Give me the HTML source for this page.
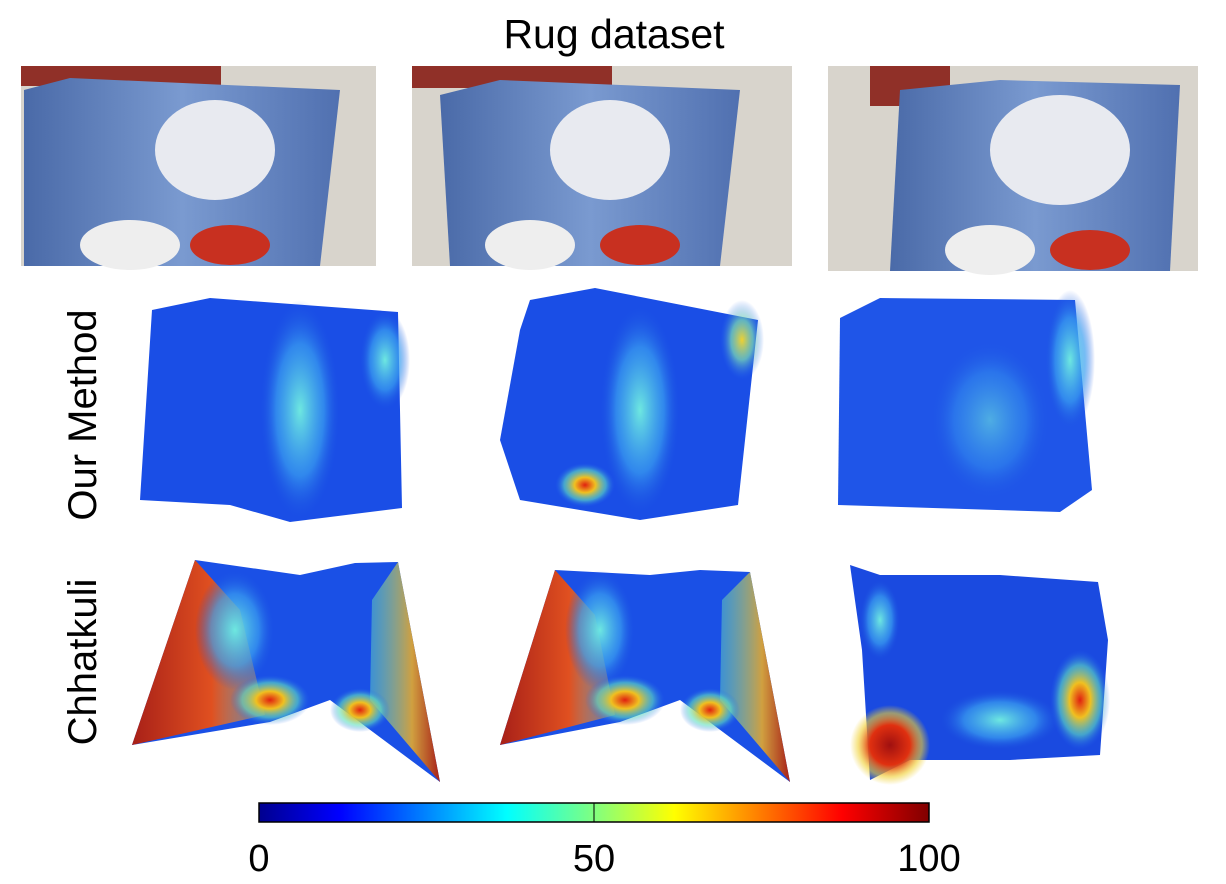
<!DOCTYPE html>
<html><head><meta charset="utf-8">
<style>
body{margin:0;background:#fff;width:1226px;height:884px;overflow:hidden;font-family:"Liberation Sans",sans-serif}
svg{position:absolute;left:0;top:0}
</style></head>
<body>
<svg width="1226" height="884" viewBox="0 0 1226 884">
<defs>
<linearGradient id="jet" x1="0" x2="1" y1="0" y2="0">
<stop offset="0" stop-color="#00008f"/><stop offset="0.12" stop-color="#0000ff"/><stop offset="0.37" stop-color="#00ffff"/><stop offset="0.5" stop-color="#80ff80"/><stop offset="0.62" stop-color="#ffff00"/><stop offset="0.87" stop-color="#ff0000"/><stop offset="1" stop-color="#800000"/>
</linearGradient>
<radialGradient id="cy"><stop offset="0" stop-color="#6ee8e0"/><stop offset="0.6" stop-color="#3aa0f0" stop-opacity="0.7"/><stop offset="1" stop-color="#1a50e0" stop-opacity="0"/></radialGradient>
<radialGradient id="hot"><stop offset="0" stop-color="#e02010"/><stop offset="0.35" stop-color="#f0c020"/><stop offset="0.7" stop-color="#60e0c0" stop-opacity="0.6"/><stop offset="1" stop-color="#2060f0" stop-opacity="0"/></radialGradient>
<radialGradient id="warm"><stop offset="0" stop-color="#f0d030"/><stop offset="0.5" stop-color="#80e0b0" stop-opacity="0.7"/><stop offset="1" stop-color="#2060f0" stop-opacity="0"/></radialGradient>
<radialGradient id="red"><stop offset="0" stop-color="#a01010"/><stop offset="0.5" stop-color="#e03010"/><stop offset="0.8" stop-color="#f0d030" stop-opacity="0.6"/><stop offset="1" stop-color="#f0d030" stop-opacity="0"/></radialGradient>
<linearGradient id="lw" x1="0" x2="1"><stop offset="0" stop-color="#a82018"/><stop offset="0.6" stop-color="#e05020"/><stop offset="1" stop-color="#f0c040" stop-opacity="0.3"/></linearGradient>
<linearGradient id="rw" x1="0" x2="1"><stop offset="0" stop-color="#60d0c0" stop-opacity="0.5"/><stop offset="0.6" stop-color="#d0a040"/><stop offset="1" stop-color="#a82018"/></linearGradient>
<linearGradient id="rug" x1="0" x2="1"><stop offset="0" stop-color="#4a6aa8"/><stop offset="0.5" stop-color="#7a9ad0"/><stop offset="1" stop-color="#5070b0"/></linearGradient>
</defs>
<text x="614" y="48" font-size="41" text-anchor="middle">Rug dataset</text>

<g>
<rect x="21" y="66" width="355" height="200" fill="#d8d4cc"/>
<rect x="21" y="66" width="200" height="20" fill="#903028"/>
<polygon points="24,90 70,78 340,90 320,266 24,266" fill="url(#rug)"/>
<ellipse cx="215" cy="150" rx="60" ry="50" fill="#e8eaf0"/>
<ellipse cx="130" cy="245" rx="50" ry="25" fill="#eee"/><ellipse cx="230" cy="245" rx="40" ry="20" fill="#c83020"/>
</g>
<g>
<rect x="412" y="66" width="380" height="200" fill="#d8d4cc"/>
<rect x="412" y="66" width="200" height="22" fill="#903028"/>
<polygon points="440,95 500,80 740,90 720,266 450,266" fill="url(#rug)"/>
<ellipse cx="610" cy="150" rx="60" ry="50" fill="#e8eaf0"/>
<ellipse cx="530" cy="245" rx="45" ry="25" fill="#eee"/><ellipse cx="640" cy="245" rx="40" ry="20" fill="#c83020"/>
</g>
<g>
<rect x="828" y="66" width="370" height="205" fill="#d8d4cc"/>
<rect x="870" y="66" width="80" height="40" fill="#903028"/>
<polygon points="900,90 1000,80 1180,85 1170,271 890,271" fill="url(#rug)"/>
<ellipse cx="1060" cy="150" rx="70" ry="55" fill="#e8eaf0"/>
<ellipse cx="990" cy="250" rx="45" ry="25" fill="#eee"/><ellipse cx="1090" cy="250" rx="40" ry="20" fill="#c83020"/>
</g>

<text transform="translate(96,415) rotate(-90)" font-size="40" text-anchor="middle">Our Method</text>
<text transform="translate(96,662) rotate(-90)" font-size="40" text-anchor="middle">Chhatkuli</text>

<g>
<polygon points="152,310 210,298 398,312 402,508 290,522 230,505 140,500" fill="#1a4ee6"/>
<ellipse cx="300" cy="410" rx="40" ry="110" fill="url(#cy)"/>
<ellipse cx="385" cy="360" rx="25" ry="50" fill="url(#cy)"/>
</g>
<g>
<polygon points="530,300 595,288 758,320 738,505 640,520 520,500 500,440 520,330" fill="#1a4ee6"/>
<ellipse cx="640" cy="410" rx="40" ry="105" fill="url(#cy)"/>
<ellipse cx="585" cy="485" rx="30" ry="22" fill="url(#hot)"/>
<ellipse cx="742" cy="340" rx="22" ry="40" fill="url(#warm)"/>
</g>
<g>
<polygon points="840,318 880,298 1075,300 1092,490 1060,512 838,505" fill="#1f55e8"/>
<ellipse cx="990" cy="420" rx="60" ry="80" fill="url(#cy)" opacity="0.6"/>
<ellipse cx="1070" cy="360" rx="25" ry="70" fill="url(#cy)"/>
</g>

<g>
<polygon points="195,560 300,575 355,563 398,562 440,782 330,700 270,722 132,745" fill="#1a50e6"/>
<polygon points="195,560 240,610 265,715 132,745" fill="url(#lw)"/>
<polygon points="398,562 440,782 370,700 372,600" fill="url(#rw)"/>
<ellipse cx="235" cy="630" rx="40" ry="60" fill="url(#cy)"/>
<ellipse cx="270" cy="700" rx="40" ry="25" fill="url(#hot)"/>
<ellipse cx="360" cy="710" rx="30" ry="22" fill="url(#hot)"/>
</g>
<g>
<polygon points="555,570 650,575 700,570 750,572 790,782 680,700 620,722 500,745" fill="#1a50e6"/>
<polygon points="555,570 595,615 615,715 500,745" fill="url(#lw)"/>
<polygon points="750,572 790,782 720,700 722,600" fill="url(#rw)"/>
<ellipse cx="600" cy="630" rx="35" ry="60" fill="url(#cy)"/>
<ellipse cx="625" cy="700" rx="40" ry="25" fill="url(#hot)"/>
<ellipse cx="710" cy="710" rx="30" ry="22" fill="url(#hot)"/>
</g>
<g>
<polygon points="850,565 880,575 1000,575 1098,582 1108,640 1100,755 1010,760 910,760 870,780 862,650" fill="#1a4ae0"/>
<ellipse cx="890" cy="745" rx="40" ry="40" fill="url(#red)"/>
<ellipse cx="1080" cy="700" rx="30" ry="50" fill="url(#hot)"/>
<ellipse cx="1000" cy="720" rx="60" ry="30" fill="url(#cy)"/>
<ellipse cx="880" cy="620" rx="20" ry="40" fill="url(#cy)"/>
</g>

<g id="cbar"></g>
</svg>
<script>
const tickValues=[0,50,100];
const tickLabels=["0","50","100"];
const cbMin=0,cbMax=100;
const X0=259,X1=929,Y=803,H=19;
function xs(v){return X0+(v-cbMin)/(cbMax-cbMin)*(X1-X0);}
const ns="http://www.w3.org/2000/svg";
const g=document.getElementById('cbar');
const r=document.createElementNS(ns,'rect');
r.setAttribute('x',X0);r.setAttribute('y',Y);r.setAttribute('width',X1-X0);r.setAttribute('height',H);
r.setAttribute('fill','url(#jet)');r.setAttribute('stroke','#000');r.setAttribute('stroke-width','1.5');


g.appendChild(r);
tickValues.forEach((v,i)=>{
 const l=document.createElementNS(ns,'line');
 l.setAttribute('x1',xs(v));l.setAttribute('x2',xs(v));l.setAttribute('y1',Y);l.setAttribute('y2',Y+H);
 l.setAttribute('stroke','#000');
 
 
 g.appendChild(l);
 const t=document.createElementNS(ns,'text');
 t.setAttribute('x',xs(v));t.setAttribute('y',871);t.setAttribute('font-size','38');t.setAttribute('text-anchor','middle');
 t.textContent=tickLabels[i];
 
 
 g.appendChild(t);
});
</script>
</body></html>
